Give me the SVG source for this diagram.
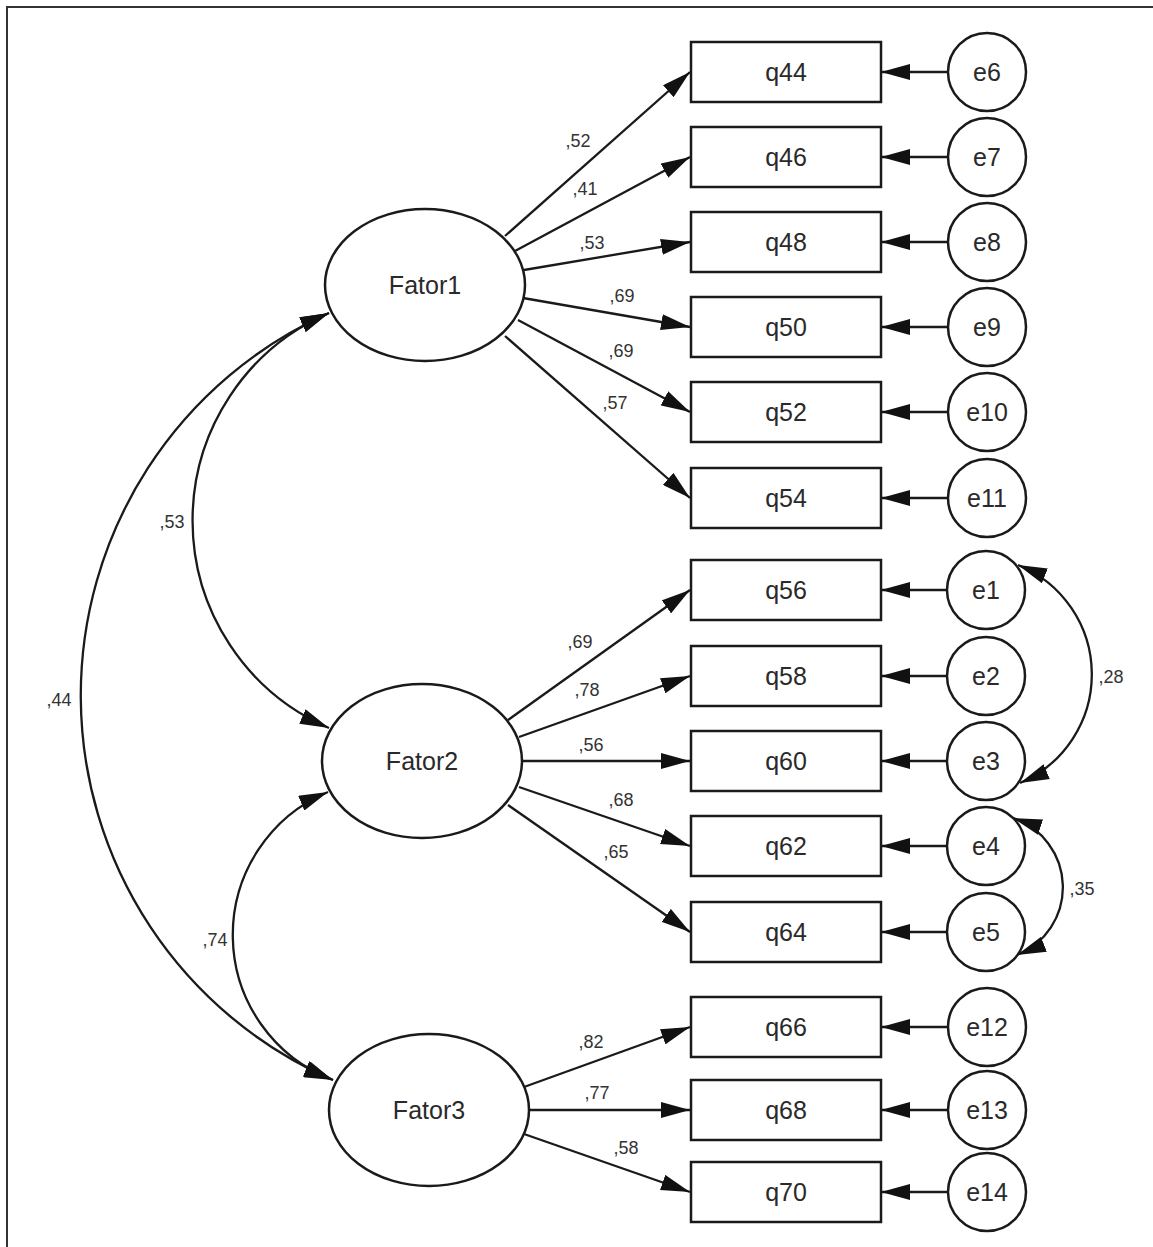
<svg xmlns="http://www.w3.org/2000/svg" width="1153" height="1247" viewBox="0 0 1153 1247">
<defs>
<style>
.nd{fill:#fff;stroke:#1a1a1a;stroke-width:2.5}
.lb{font-family:"Liberation Sans",Arial,sans-serif;font-size:25px;fill:#2a2a2a;text-anchor:middle}
.ld{font-family:"Liberation Sans",Arial,sans-serif;font-size:18px;fill:#333;text-anchor:middle}
.ln{fill:none;stroke:#1a1a1a;stroke-width:2.3;marker-end:url(#ah)}
.cv{fill:none;stroke:#1a1a1a;stroke-width:2.3;marker-start:url(#ah);marker-end:url(#ah)}
</style>
<marker id="ah" markerUnits="userSpaceOnUse" markerWidth="29" markerHeight="16" refX="29" refY="8" orient="auto-start-reverse" viewBox="0 0 29 16">
<path d="M0,0 L29,8 L0,16 z" fill="#111"/>
</marker>
</defs>
<rect width="1153" height="1247" fill="#fff"/>
<path d="M7,1247 V7 H1153" fill="none" stroke="#333" stroke-width="2"/>

<g id="connectors">
<path class="ln" d="M505,236 L690,72"/>
<path class="ln" d="M515,251 L690,157"/>
<path class="ln" d="M524,270 L690,242"/>
<path class="ln" d="M523,298 L690,327"/>
<path class="ln" d="M518,320 L690,412"/>
<path class="ln" d="M505,336 L690,498"/>
<path class="ln" d="M508,720 L690,590"/>
<path class="ln" d="M519,737 L690,676"/>
<path class="ln" d="M522,761 L690,761"/>
<path class="ln" d="M519,787 L690,846"/>
<path class="ln" d="M508,805 L690,932"/>
<path class="ln" d="M524,1087 L690,1027"/>
<path class="ln" d="M528,1110 L690,1110"/>
<path class="ln" d="M524,1134 L690,1192"/>
<path class="ln" d="M948,72 L881,72"/>
<path class="ln" d="M948,157 L881,157"/>
<path class="ln" d="M948,242 L881,242"/>
<path class="ln" d="M948,327 L881,327"/>
<path class="ln" d="M948,412 L881,412"/>
<path class="ln" d="M948,498 L881,498"/>
<path class="ln" d="M947,590 L881,590"/>
<path class="ln" d="M947,676 L881,676"/>
<path class="ln" d="M947,761 L881,761"/>
<path class="ln" d="M947,846 L881,846"/>
<path class="ln" d="M947,932 L881,932"/>
<path class="ln" d="M948,1027 L881,1027"/>
<path class="ln" d="M948,1110 L881,1110"/>
<path class="ln" d="M948,1192 L881,1192"/>
<path class="cv" d="M329,313 A226,226 0 0 0 329,728"/>
<path class="cv" d="M329,313 A419,419 0 0 0 333,1080"/>
<path class="cv" d="M328,792 A155,155 0 0 0 333,1080"/>
<path class="cv" d="M1018,565 A118,118 0 0 1 1020,783"/>
<path class="cv" d="M1013,818 A73,73 0 0 1 1017,955"/>
</g>

<g id="labels">
<text class="ld" x="578" y="147">,52</text>
<text class="ld" x="585" y="195">,41</text>
<text class="ld" x="592" y="249">,53</text>
<text class="ld" x="622" y="302">,69</text>
<text class="ld" x="621" y="357">,69</text>
<text class="ld" x="615" y="409">,57</text>
<text class="ld" x="580" y="648">,69</text>
<text class="ld" x="587" y="696">,78</text>
<text class="ld" x="591" y="751">,56</text>
<text class="ld" x="621" y="806">,68</text>
<text class="ld" x="616" y="858">,65</text>
<text class="ld" x="591" y="1048">,82</text>
<text class="ld" x="597" y="1099">,77</text>
<text class="ld" x="626" y="1154">,58</text>
<text class="ld" x="172" y="528">,53</text>
<text class="ld" x="59" y="706">,44</text>
<text class="ld" x="215" y="946">,74</text>
<text class="ld" x="1111" y="683">,28</text>
<text class="ld" x="1082" y="895">,35</text>
</g>

<g id="Fator1"><ellipse class="nd" cx="425" cy="285" rx="100" ry="76"/><text class="lb" x="425" y="294">Fator1</text></g>
<g id="Fator2"><ellipse class="nd" cx="422" cy="761" rx="100" ry="77"/><text class="lb" x="422" y="770">Fator2</text></g>
<g id="Fator3"><ellipse class="nd" cx="429" cy="1110" rx="100" ry="76"/><text class="lb" x="429" y="1119">Fator3</text></g>

<g id="q44"><rect class="nd" x="691" y="42" width="190" height="60"/><text class="lb" x="786" y="81">q44</text></g>
<g id="q46"><rect class="nd" x="691" y="127" width="190" height="60"/><text class="lb" x="786" y="166">q46</text></g>
<g id="q48"><rect class="nd" x="691" y="212" width="190" height="60"/><text class="lb" x="786" y="251">q48</text></g>
<g id="q50"><rect class="nd" x="691" y="297" width="190" height="60"/><text class="lb" x="786" y="336">q50</text></g>
<g id="q52"><rect class="nd" x="691" y="382" width="190" height="60"/><text class="lb" x="786" y="421">q52</text></g>
<g id="q54"><rect class="nd" x="691" y="468" width="190" height="60"/><text class="lb" x="786" y="507">q54</text></g>
<g id="q56"><rect class="nd" x="691" y="560" width="190" height="60"/><text class="lb" x="786" y="599">q56</text></g>
<g id="q58"><rect class="nd" x="691" y="646" width="190" height="60"/><text class="lb" x="786" y="685">q58</text></g>
<g id="q60"><rect class="nd" x="691" y="731" width="190" height="60"/><text class="lb" x="786" y="770">q60</text></g>
<g id="q62"><rect class="nd" x="691" y="816" width="190" height="60"/><text class="lb" x="786" y="855">q62</text></g>
<g id="q64"><rect class="nd" x="691" y="902" width="190" height="60"/><text class="lb" x="786" y="941">q64</text></g>
<g id="q66"><rect class="nd" x="691" y="997" width="190" height="60"/><text class="lb" x="786" y="1036">q66</text></g>
<g id="q68"><rect class="nd" x="691" y="1080" width="190" height="60"/><text class="lb" x="786" y="1119">q68</text></g>
<g id="q70"><rect class="nd" x="691" y="1162" width="190" height="60"/><text class="lb" x="786" y="1201">q70</text></g>

<g id="e6"><circle class="nd" cx="987" cy="72" r="39"/><text class="lb" x="987" y="81">e6</text></g>
<g id="e7"><circle class="nd" cx="987" cy="157" r="39"/><text class="lb" x="987" y="166">e7</text></g>
<g id="e8"><circle class="nd" cx="987" cy="242" r="39"/><text class="lb" x="987" y="251">e8</text></g>
<g id="e9"><circle class="nd" cx="987" cy="327" r="39"/><text class="lb" x="987" y="336">e9</text></g>
<g id="e10"><circle class="nd" cx="987" cy="412" r="39"/><text class="lb" x="987" y="421">e10</text></g>
<g id="e11"><circle class="nd" cx="987" cy="498" r="39"/><text class="lb" x="987" y="507">e11</text></g>
<g id="e1"><circle class="nd" cx="986" cy="590" r="39"/><text class="lb" x="986" y="599">e1</text></g>
<g id="e2"><circle class="nd" cx="986" cy="676" r="39"/><text class="lb" x="986" y="685">e2</text></g>
<g id="e3"><circle class="nd" cx="986" cy="761" r="39"/><text class="lb" x="986" y="770">e3</text></g>
<g id="e4"><circle class="nd" cx="986" cy="846" r="39"/><text class="lb" x="986" y="855">e4</text></g>
<g id="e5"><circle class="nd" cx="986" cy="932" r="39"/><text class="lb" x="986" y="941">e5</text></g>
<g id="e12"><circle class="nd" cx="987" cy="1027" r="39"/><text class="lb" x="987" y="1036">e12</text></g>
<g id="e13"><circle class="nd" cx="987" cy="1110" r="39"/><text class="lb" x="987" y="1119">e13</text></g>
<g id="e14"><circle class="nd" cx="987" cy="1192" r="39"/><text class="lb" x="987" y="1201">e14</text></g>
</svg>
